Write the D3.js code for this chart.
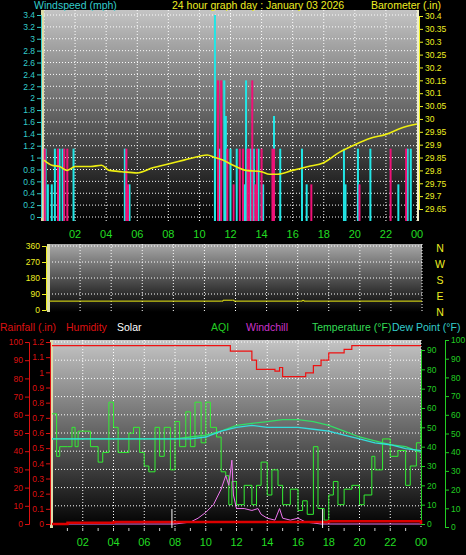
<!DOCTYPE html>
<html><head><meta charset="utf-8">
<script src="https://cdn.jsdelivr.net/npm/d3@7"></script>
<style>body{margin:0;background:#000}svg{display:block;font-family:"Liberation Sans",Arial,sans-serif}</style>
</head><body><div id="chart"></div>
<script>
// barometer (hour, inHg)
const baroHours = [0,0.5,1,1.5,2,3,3.7,4.2,5,6,7,8,9,10,10.5,11,11.5,12,13,14,14.5,15,16,17,18,19,20,21,22,23,24];
const baroValues = [29.84,29.82,29.815,29.80,29.815,29.815,29.82,29.80,29.795,29.79,29.81,29.825,29.84,29.855,29.86,29.85,29.84,29.825,29.80,29.795,29.785,29.785,29.80,29.815,29.83,29.87,29.9,29.925,29.94,29.965,29.98];
// wind speed / gust bars (hour, mph)
const windHours = [0.1,0.25,0.5,0.7,1.0,1.2,1.9,5.2,5.5,11.0,11.0,11.3,11.6,11.7,12.0,12.4,12.9,13.0,13.3,13.5,13.8,14.0,14.1,14.8,15.2,16.6,16.9,19.3,19.4,20.2,21.0,22.8,23.4,23.6];
const windSpeed = [1.15,0.55,0.55,1.15,1.15,1.15,1.15,1.15,0.55,3.4,2.3,1.15,2.3,1.7,1.15,1.15,0.55,2.3,1.15,1.15,1.15,0.55,0.55,1.7,1.15,1.15,0.55,1.15,0.55,1.15,1.15,0.55,1.15,1.15];
const gustHours = [0.05,0.9,1.3,1.5,5.3,5.4,11.2,11.4,11.8,12.2,12.6,12.8,13.1,13.2,13.4,13.6,13.7,14.0,14.7,14.8,17.2,20.3,22.3,23.3];
const gustSpeed = [1.15,1.15,1.15,1.15,1.15,0.55,2.3,2.3,1.15,0.55,1.15,1.15,1.15,1.15,2.3,0.55,1.15,1.15,1.15,1.15,0.55,0.55,1.15,1.15];
// wind direction (hour, degrees)
const dirHours = [0,11.1,11.2,11.8,11.9,16.2,16.3,16.4,24];
const dirValues = [50,50,55,55,50,50,54,50,50];
// humidity
const humHours = [0,11.3,11.6,12.8,13.0,13.3,14.5,14.8,15.0,16.0,16.5,17.0,17.5,18.0,19.0,19.5,24];
const humValues = [98,98,95,95,90,85,84,86,81,81,83,87,90,94,96,98,98];
// temperature / dew point (hourly 0..24)
const tempValues = [44,44,44,44,44,44,44,44,44,45,46,48,51,52,53,54,54,53,51,48,45,43,41,40,37];
const dewValues = [44,44,44,44,44,44,44,44,44,44,45,48,50,51,50,50,50,49,48,46,44,42,41,39,38];
// AQI (hour, value)
const aqiHours = [0,0.3,0.5,1,1.3,1.5,1.7,2,2.5,3,3.3,3.7,4,4.3,5,5.3,5.7,6,6.3,6.7,7,7.3,7.7,8,8.3,8.7,9,9.3,9.7,10,10.3,10.7,11,11.3,11.5,11.7,12,12.5,13,13.3,13.6,14,14.3,14.7,15,15.5,16,16.3,16.6,17,17.3,17.7,18,18.3,18.6,19,19.5,20,20.3,20.8,21,21.5,22,22.5,23,23.3,23.7,24];
const aqiValues = [57,35,40,40,50,40,48,48,40,32,37,63,50,37,47,50,37,30,27,50,35,50,28,53,40,58,40,63,42,63,50,45,27,25,10,22,10,20,10,20,32,15,28,20,10,18,7,12,5,40,8,2,15,22,10,18,20,10,15,35,28,44,35,38,20,30,42,53];
// windchill (hour, value)
const chillHours = [0,8,9,9.5,10,10.5,11,11.3,11.5,11.7,11.8,12,12.5,13,13.4,13.6,14,14.5,14.8,15,15.5,16,16.5,17,17.5,24];
const chillValues = [0,0,1,3,6,10,18,25,20,33,15,8,8,7,8,5,3,2,8,3,2,3,1,0.5,0,0];
// rainfall (hour, in)
const rainHours = [0,1,1.01,4,4.01,18,18.01,23.9,24];
const rainValues = [0,0,0.008,0.008,0.013,0.013,0.018,0.018,0];
const solarMarks = [7.8, 17.6];
const hourTicks = [2,4,6,8,10,12,14,16,18,20,22,24];

const W = 466, H = 555;
const svg = d3.select('#chart').append('svg').attr('width', W).attr('height', H);
const defs = svg.append('defs');
function grad(id, c1, c2) {
  const g = defs.append('linearGradient').attr('id', id).attr('x1', 0).attr('y1', 0).attr('x2', 0).attr('y2', 1);
  g.append('stop').attr('offset', 0).attr('stop-color', c1);
  g.append('stop').attr('offset', 1).attr('stop-color', c2);
}
grad('g1', '#c4c4c4', '#000');
grad('g2', '#a8a8a8', '#000');
const fmtH = h => h === 24 ? '00' : d3.format('02')(h);

function panel(x0, x1, y0, y1, gid, yScale, yTicks) {
  svg.append('rect').attr('x', x0).attr('y', y0).attr('width', x1 - x0).attr('height', y1 - y0).attr('fill', `url(#${gid})`);
  const x = d3.scaleLinear().domain([0, 24]).range([x0, x1]);
  const g = svg.append('g').attr('stroke', '#fff').attr('stroke-dasharray', '1,2').attr('stroke-width', 1);
  g.selectAll('.v').data(d3.range(0, 25, 2)).enter().append('line')
    .attr('x1', d => x(d)).attr('x2', d => x(d)).attr('y1', y0).attr('y2', y1);
  g.selectAll('.h').data(yTicks).enter().append('line')
    .attr('x1', x0).attr('x2', x1).attr('y1', d => yScale(d)).attr('y2', d => yScale(d));
  return x;
}
function yAxis(scale, x, ticks, color, side, fmt) {
  const ax = side === 'left' ? d3.axisLeft(scale) : d3.axisRight(scale);
  const g = svg.append('g').attr('transform', `translate(${x},0)`)
    .call(ax.tickValues(ticks).tickSize(4).tickPadding(2).tickFormat(fmt || (d => d)));
  g.select('.domain').attr('stroke', color);
  g.selectAll('line').attr('stroke', color);
  g.selectAll('text').attr('fill', color).attr('font-size', 8.5);
}
function xLabels(x, y) {
  svg.append('g').selectAll('text').data(hourTicks).enter().append('text')
    .attr('x', d => x(d)).attr('y', y).attr('text-anchor', 'middle')
    .attr('fill', '#22dd22').attr('font-size', 11).text(fmtH);
}
function txt(x, y, s, c, anchor) {
  svg.append('text').attr('x', x).attr('y', y).attr('fill', c).attr('font-size', 10.5)
    .attr('text-anchor', anchor || 'start').text(s);
}

// ---- top panel ----
const ws = d3.scaleLinear().domain([0, 3.4]).range([217, 15]);
const bar = d3.scaleLinear().domain([29.65, 30.4]).range([209, 16]);
const x1 = panel(44, 417, 10, 221, 'g1', ws, d3.range(0, 3.41, 0.2));
svg.append('rect').attr('x', 41).attr('y', 10).attr('width', 3).attr('height', 211).attr('fill', '#ddddaa');
svg.append('rect').attr('x', 417).attr('y', 10).attr('width', 2).attr('height', 211).attr('fill', '#eeeecc');
yAxis(ws, 41, d3.range(0, 3.41, 0.2), '#33cccc', 'left', d => +d.toFixed(1));
yAxis(bar, 419, d3.range(29.65, 30.401, 0.05), '#eeee22', 'right', d => +d.toFixed(2));
svg.append('g').selectAll('rect').data(windHours).enter().append('rect')
  .attr('x', d => x1(d) - 1).attr('width', 2).attr('y', (d, i) => ws(windSpeed[i]))
  .attr('height', (d, i) => 221 - ws(windSpeed[i])).attr('fill', '#22e5e5');
svg.append('g').selectAll('rect').data(gustHours).enter().append('rect')
  .attr('x', d => x1(d) - 1).attr('width', 2).attr('y', (d, i) => ws(gustSpeed[i]))
  .attr('height', (d, i) => 221 - ws(gustSpeed[i])).attr('fill', '#ee1177');
svg.append('path').datum(baroHours)
  .attr('d', d3.line().x(d => x1(d)).y((d, i) => bar(baroValues[i])).curve(d3.curveMonotoneX))
  .attr('fill', 'none').attr('stroke', '#eeee11').attr('stroke-width', 1.6);
txt(34, 9, 'Windspeed (mph)', '#33cccc');
txt(172, 9, '24 hour graph day : January 03 2026', '#eeee22');
txt(371, 9, 'Barometer (.in)', '#eeee22');
xLabels(x1, 238);

// ---- middle panel ----
const dir = d3.scaleLinear().domain([0, 360]).range([310, 246]);
const x2 = panel(49, 422, 244, 312, 'g2', dir, [90, 180, 270, 360]);
svg.append('rect').attr('x', 47).attr('y', 244).attr('width', 3).attr('height', 68).attr('fill', '#ddddaa');
yAxis(dir, 46, [0, 90, 180, 270, 360], '#eeee22', 'left');
svg.append('path').datum(dirHours)
  .attr('d', d3.line().x(d => x2(d)).y((d, i) => dir(dirValues[i])).curve(d3.curveStepAfter))
  .attr('fill', 'none').attr('stroke', '#eeee11').attr('stroke-width', 1);
['N', 'W', 'S', 'E', 'N'].forEach((s, i) => txt(440, 252 + i * 16, s, '#eeee22', 'middle'));

// ---- legend ----
txt(0, 331, 'Rainfall (.in)', '#dd1111');
txt(66, 331, 'Humidity', '#dd1111');
txt(117, 331, 'Solar', '#ffffff');
txt(211, 331, 'AQI', '#22cc22');
txt(246, 331, 'Windchill', '#cc33cc');
txt(312, 331, 'Temperature (°F)', '#33dd55');
txt(392, 331, 'Dew Point (°F)', '#33cccc');

// ---- bottom panel ----
const hum = d3.scaleLinear().domain([0, 100]).range([524, 342]);
const rain = d3.scaleLinear().domain([0, 1.2]).range([524, 342]);
const tmp = d3.scaleLinear().domain([0, 90]).range([524, 350]);
const t2 = d3.scaleLinear().domain([0, 100]).range([527, 340]);
const x3 = panel(52, 421, 340, 528, 'g1', hum, d3.range(10, 101, 10));
svg.append('rect').attr('x', 50).attr('y', 340).attr('width', 3).attr('height', 188).attr('fill', '#ddddaa');
yAxis(hum, 29, d3.range(0, 101, 10), '#dd1111', 'left');
yAxis(rain, 50, d3.range(0, 1.21, 0.1), '#dd1111', 'left', d => +d.toFixed(1));
yAxis(tmp, 421, d3.range(0, 91, 10), '#22cc22', 'right');
yAxis(t2, 445, d3.range(0, 101, 10), '#22cc22', 'right');
svg.append('g').selectAll('line').data(d3.range(1, 24)).enter().append('line')
  .attr('x1', d => x3(d)).attr('x2', d => x3(d)).attr('y1', 528).attr('y2', 531).attr('stroke', '#cccccc');
const lineStep = (xs, ys, sc) => d3.line().x(d => x3(d)).y((d, i) => sc(ys[i])).curve(d3.curveStepAfter)(xs);
svg.append('path').attr('d', lineStep(aqiHours, aqiValues, tmp)).attr('fill', 'none').attr('stroke', '#33ee33').attr('stroke-width', 1);
svg.append('path').attr('d', d3.line().x((d, i) => x3(i)).y(d => tmp(d))(tempValues)).attr('fill', 'none').attr('stroke', '#33dd66').attr('stroke-width', 1.3);
svg.append('path').attr('d', d3.line().x((d, i) => x3(i)).y(d => tmp(d))(dewValues)).attr('fill', 'none').attr('stroke', '#33dddd').attr('stroke-width', 1.3);
svg.append('path').attr('d', d3.line().x(d => x3(d)).y((d, i) => tmp(chillValues[i]))(chillHours)).attr('fill', 'none').attr('stroke', '#ee77ee').attr('stroke-width', 1);
svg.append('path').attr('d', lineStep(humHours, humValues, hum)).attr('fill', 'none').attr('stroke', '#ee1111').attr('stroke-width', 1.2);
svg.append('path').attr('d', lineStep(rainHours, rainValues, rain)).attr('fill', 'none').attr('stroke', '#dd0000').attr('stroke-width', 2.5);
svg.append('g').selectAll('line').data(solarMarks).enter().append('line')
  .attr('x1', d => x3(d)).attr('x2', d => x3(d)).attr('y1', 509).attr('y2', 528).attr('stroke', '#fff');
xLabels(x3, 546);
</script></body></html>
